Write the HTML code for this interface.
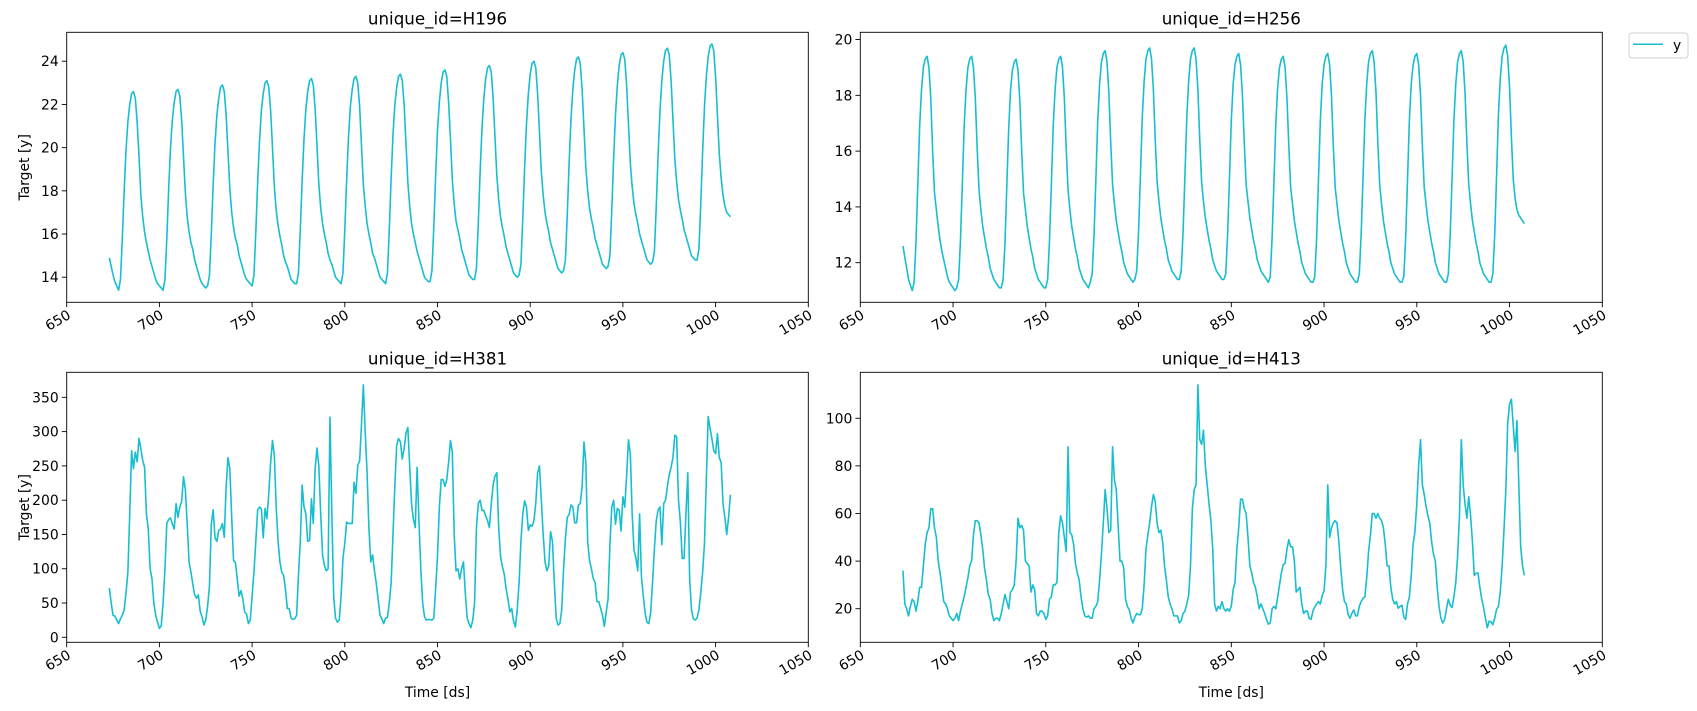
<!DOCTYPE html>
<html><head><meta charset="utf-8"><style>
html,body{margin:0;padding:0;background:#fff;}
svg{display:block;font-family:"DejaVu Sans","Liberation Sans",sans-serif;}
</style></head><body>
<svg id="chart" width="1697" height="711" viewBox="0 0 1697 711" xmlns="http://www.w3.org/2000/svg">
<rect width="1697" height="711" fill="#fff"/>
<g>
<rect x="1629" y="33" width="59" height="25" rx="3" fill="#fff" stroke="#d0d0d0"/>
<line x1="1633" y1="44.3" x2="1663" y2="44.3" stroke="#17becf" stroke-width="1.5"/>
<text x="1673" y="50" font-size="13.9" fill="#000">y</text>
</g>
</svg>
<script>
const xTicks = [650,700,750,800,850,900,950,1000,1050];
const dsStart = 673;
const titles = ["unique_id=H196","unique_id=H256","unique_id=H381","unique_id=H413"];
const yTicks196 = [14,16,18,20,22,24];
const yTicks256 = [12,14,16,18,20];
const yTicks381 = [0,50,100,150,200,250,300,350];
const yTicks413 = [20,40,60,80,100];
const h196 = [14.9,14.5,14.1,13.8,13.6,
13.4,13.9,15.8,18.0,19.9,21.2,22.0,22.5,22.6,22.3,21.2,19.6,17.8,16.8,16.1,15.6,15.2,14.8,14.5,14.2,13.9,13.7,13.6,13.5,
13.4,13.9,15.8,18.1,20.0,21.3,22.1,22.6,22.7,22.4,21.3,19.6,17.9,16.8,16.1,15.6,15.3,14.8,14.5,14.2,13.9,13.7,13.6,13.5,
13.6,14.1,16.0,18.3,20.2,21.5,22.3,22.8,22.9,22.6,21.5,19.8,18.1,17.0,16.3,15.8,15.5,15.0,14.7,14.4,14.1,13.9,13.8,13.7,
13.6,14.1,16.1,18.4,20.3,21.7,22.5,23.0,23.1,22.8,21.7,20.0,18.2,17.1,16.4,15.9,15.5,15.0,14.7,14.5,14.2,13.9,13.8,13.7,
13.7,14.2,16.2,18.5,20.4,21.8,22.6,23.1,23.2,22.9,21.8,20.1,18.3,17.2,16.5,16.0,15.6,15.1,14.8,14.6,14.3,14.0,13.9,13.8,
13.7,14.2,16.2,18.5,20.5,21.9,22.7,23.2,23.3,23.0,21.9,20.1,18.3,17.3,16.5,16.0,15.6,15.1,14.9,14.6,14.3,14.0,13.9,13.8,
13.7,14.2,16.2,18.6,20.6,22.0,22.8,23.3,23.4,23.1,22.0,20.2,18.4,17.3,16.5,16.0,15.6,15.2,14.9,14.6,14.3,14.0,13.9,13.8,
13.8,14.3,16.3,18.7,20.8,22.1,23.0,23.5,23.6,23.3,22.1,20.4,18.5,17.4,16.6,16.2,15.8,15.3,15.0,14.7,14.4,14.1,14.0,13.9,
13.9,14.4,16.5,18.9,20.9,22.3,23.2,23.7,23.8,23.5,22.3,20.5,18.7,17.6,16.8,16.3,15.9,15.4,15.1,14.8,14.5,14.2,14.1,14.0,
14.1,14.6,16.7,19.1,21.1,22.5,23.4,23.9,24.0,23.7,22.5,20.7,18.9,17.8,17.0,16.5,16.1,15.6,15.3,15.0,14.7,14.4,14.3,14.2,
14.3,14.8,16.9,19.3,21.3,22.7,23.6,24.1,24.2,23.9,22.7,20.9,19.1,18.0,17.2,16.7,16.3,15.8,15.5,15.2,14.9,14.6,14.5,14.4,
14.5,15.0,17.1,19.5,21.5,22.9,23.8,24.3,24.4,24.1,22.9,21.1,19.3,18.2,17.4,16.9,16.5,16.0,15.7,15.4,15.1,14.8,14.7,14.6,
14.7,15.2,17.3,19.7,21.7,23.1,24.0,24.5,24.6,24.3,23.1,21.3,19.5,18.4,17.6,17.1,16.7,16.2,15.9,15.6,15.3,15.0,14.9,14.8,
14.8,15.3,17.4,19.8,21.9,23.3,24.2,24.7,24.8,24.5,23.3,21.5,19.7,18.6,17.8,17.3,17.0,16.9,16.8];
const h256 = [12.6,12.2,11.8,11.4,11.2,
11.0,11.3,12.7,14.8,16.9,18.2,19.0,19.3,19.4,19.0,17.9,16.0,14.5,13.9,13.3,12.8,12.4,12.1,11.8,11.5,11.3,11.2,11.1,11.0,
11.1,11.4,12.8,14.8,16.9,18.2,19.0,19.3,19.4,19.0,17.9,16.1,14.6,13.9,13.3,12.9,12.5,12.2,11.8,11.6,11.4,11.3,11.2,11.1,
11.1,11.4,12.7,14.8,16.8,18.2,18.9,19.2,19.3,18.9,17.8,16.0,14.5,13.9,13.3,12.9,12.5,12.2,11.8,11.6,11.4,11.3,11.2,11.1,
11.1,11.4,12.8,14.8,16.9,18.2,19.0,19.3,19.4,19.0,17.9,16.1,14.6,13.9,13.3,12.9,12.5,12.2,11.8,11.6,11.4,11.3,11.2,11.1,
11.3,11.6,13.0,15.0,17.1,18.4,19.2,19.5,19.6,19.2,18.1,16.3,14.8,14.1,13.5,13.1,12.7,12.4,12.0,11.8,11.6,11.5,11.4,11.3,
11.4,11.7,13.1,15.1,17.2,18.5,19.3,19.6,19.7,19.3,18.2,16.4,14.9,14.2,13.6,13.2,12.8,12.5,12.1,11.9,11.7,11.6,11.5,11.4,
11.4,11.7,13.1,15.1,17.2,18.5,19.3,19.6,19.7,19.3,18.2,16.4,14.9,14.2,13.6,13.2,12.8,12.5,12.1,11.9,11.7,11.6,11.5,11.4,
11.4,11.6,13.0,15.0,17.1,18.4,19.1,19.4,19.5,19.1,18.0,16.3,14.8,14.2,13.6,13.2,12.8,12.5,12.1,11.9,11.7,11.6,11.5,11.4,
11.3,11.5,12.9,14.9,17.0,18.3,19.0,19.3,19.4,19.0,17.9,16.2,14.7,14.1,13.5,13.1,12.7,12.4,12.0,11.8,11.6,11.5,11.4,11.3,
11.3,11.5,12.9,15.0,17.1,18.4,19.1,19.4,19.5,19.1,18.0,16.2,14.7,14.1,13.5,13.1,12.7,12.4,12.0,11.8,11.6,11.5,11.4,11.3,
11.3,11.6,13.0,15.0,17.1,18.4,19.2,19.5,19.6,19.2,18.1,16.3,14.8,14.1,13.5,13.1,12.7,12.4,12.0,11.8,11.6,11.5,11.4,11.3,
11.3,11.5,12.9,15.0,17.1,18.4,19.1,19.4,19.5,19.1,18.0,16.2,14.7,14.1,13.5,13.1,12.7,12.4,12.0,11.8,11.6,11.5,11.4,11.3,
11.3,11.6,13.0,15.0,17.1,18.4,19.2,19.5,19.6,19.2,18.1,16.3,14.8,14.1,13.5,13.1,12.7,12.4,12.0,11.8,11.6,11.5,11.4,11.3,
11.3,11.6,13.0,15.1,17.3,18.6,19.4,19.7,19.8,19.4,18.3,16.5,15.0,14.3,13.9,13.7,13.6,13.5,13.4];
const h381 = [72,50,32,31,25,20,27,32,40,65,95,180,272,246,270,256,290,275,258,248,180,158,100,85,
50,32,22,13,17,50,100,166,172,174,165,158,195,175,190,198,234,215,165,110,95,78,62,57,
62,38,30,18,25,45,75,165,186,145,140,156,158,166,146,220,262,246,175,112,109,85,60,68,
56,37,34,20,25,60,95,140,186,190,187,145,188,173,210,255,287,265,190,140,110,95,90,70,
42,42,28,26,27,32,90,140,222,190,180,140,141,202,166,246,276,250,180,120,105,97,100,321,
183,60,28,22,25,60,115,137,168,166,166,166,226,210,251,257,310,368,300,241,160,110,120,97,
78,55,32,27,20,28,29,50,80,150,222,280,290,285,260,275,298,306,250,195,172,160,248,170,
100,50,30,25,26,26,25,28,71,118,190,230,230,220,230,255,287,270,150,97,100,85,100,110,
65,28,20,14,25,50,160,195,200,185,185,177,170,160,195,222,235,240,160,118,103,92,71,56,
37,42,24,15,40,80,140,180,199,190,156,164,162,170,195,240,250,200,150,110,97,104,154,140,
80,28,18,20,40,100,145,175,179,193,190,167,167,193,195,220,285,255,140,112,100,86,80,52,
52,42,32,16,37,56,135,190,200,165,188,185,155,205,190,235,288,268,180,127,116,97,180,88,
60,35,22,20,37,80,130,170,186,190,135,195,200,220,237,248,262,295,292,200,168,115,115,180,
240,85,40,27,25,28,40,65,95,137,230,322,305,290,272,268,297,262,255,195,175,150,175,208];
const h413 = [36,22,20,17,21,24,23,19,23,29,29,38,47,52,54,62,62,54,50,40,35,29,23,22,
20,17,16,15,16,18,15,19,22,25,29,33,38,40,51,57,57,56,51,45,37,32,26,24,
18,15,16,16,15,18,22,26,23,20,27,28,30,40,58,54,55,53,40,39,38,27,30,28,
18,17,19,19,18,15.5,17,24,25,30,30,31,52,59,56,50,44,88,52,51,47,39,35,32,
25,20,17,16.5,17,16,16,20,21,23,32,43,56,70,62,52,53,88,74,70,55,40,40,37,
24,21,19.5,16,14,16.5,18,17.5,17.5,20,30,45,51,56,63,68,65,56,52,53,48,38,32,25,
22,20,17,17,17,14,15,18,19,22,25.5,38,62,70,72,114,91,89,95,80,72,64,57,45,
22,19,21,20,23,20,19,20,19,21,28,31,45,54,66,66,62,60,50,38,35,31,29,25,
20,22,20,18,15.5,13.5,14,20,21,20,25,30,35,38.5,39,45,49,46,46,40,27,28,29,22,
18,19,19,16,15.5,19,20.7,22,23,22,25.6,27.5,38,72,50,54,56,57,56,48,37,28,23,22,
17.5,16,18,19.5,17,17,21,23,24.3,25,33,44,51,60,60,58,60,58,57,54,47,38,38,29,
24,22,23,20.2,21,21.5,16.5,15.5,22,25,34,47,52.5,64,80,91,72,68,63,59,56,48,43,40,
29,21,16,14,15.5,20,24,21.5,20.5,25,31,42,59,91,72,64,58,67,59,48,34,35,35,29,
24,20.5,16,12,14.8,14.5,13.3,16,19.7,21,27,38,53,70,98,106,108,97,86,99,72,46,38,34];

const NS = "http://www.w3.org/2000/svg";
const svg = document.getElementById('chart');
const COLOR = "#17becf";
const panels = [
 {data:h196, ticks:yTicks196, left:66.7, right:808.3, top:32.3, bottom:302.3, ymin:12.84, ymax:25.34, ylab:true, xlab:false, name:'h196'},
 {data:h256, ticks:yTicks256, left:860.3, right:1602.3, top:32.3, bottom:302.3, ymin:10.58, ymax:20.26, ylab:false, xlab:false, name:'h256'},
 {data:h381, ticks:yTicks381, left:66.7, right:808.3, top:372.3, bottom:642.3, ymin:-7.3, ymax:386.5, ylab:true, xlab:true, name:'h381'},
 {data:h413, ticks:yTicks413, left:860.3, right:1602.3, top:372.3, bottom:642.3, ymin:5.9, ymax:119.3, ylab:false, xlab:true, name:'h413'}
];
function mk(tag, attrs, parent){
  const e = document.createElementNS(NS, tag);
  for (const k in attrs) e.setAttribute(k, attrs[k]);
  (parent||svg).appendChild(e);
  return e;
}
panels.forEach((p, pi) => {
  const xS = t => p.left + (t - 650) / 400 * (p.right - p.left);
  const yS = v => p.bottom - (v - p.ymin) / (p.ymax - p.ymin) * (p.bottom - p.top);
  const g = mk('g', {});
  
  
  let d = '';
  p.data.forEach((v, i) => { d += (i ? 'L' : 'M') + xS(dsStart + i).toFixed(2) + ' ' + yS(v).toFixed(2); });
  const path = mk('path', {d: d, fill: 'none', stroke: COLOR, 'stroke-width': 1.6, 'stroke-linejoin': 'round'}, g);
  
  
  const fr = mk('rect', {x: p.left, y: p.top, width: p.right - p.left, height: p.bottom - p.top, fill: 'none', stroke: '#000', 'stroke-width': 0.9}, g);
  
  
  xTicks.forEach(t => {
    const x = xS(t);
    mk('line', {x1: x, y1: p.bottom, x2: x, y2: p.bottom + 4.9, stroke: '#000', 'stroke-width': 0.9}, g);
    const tx = mk('text', {transform: 'translate(' + (x + 3) + ',' + (p.bottom + 12) + ') rotate(-30)', 'text-anchor': 'end', 'font-size': 13.9, fill: '#000', 'dominant-baseline': 'middle'}, g);
    
    
    tx.textContent = t;
  });
  p.ticks.forEach(v => {
    const y = yS(v);
    mk('line', {x1: p.left - 4.9, y1: y, x2: p.left, y2: y, stroke: '#000', 'stroke-width': 0.9}, g);
    const ty = mk('text', {x: p.left - 8, y: y + 5, 'text-anchor': 'end', 'font-size': 13.9, fill: '#000'}, g);
    
    
    ty.textContent = v;
  });
  const tt = mk('text', {x: (p.left + p.right) / 2, y: p.top - 8, 'text-anchor': 'middle', 'font-size': 16.7, fill: '#000'}, g);
  
  
  tt.textContent = titles[pi];
  if (p.ylab) {
    const cy = (p.top + p.bottom) / 2;
    const yl = mk('text', {transform: 'translate(29,' + cy + ') rotate(-90)', 'text-anchor': 'middle', 'font-size': 13.9, fill: '#000'}, g);
    
    
    yl.textContent = 'Target [y]';
  }
  if (p.xlab) {
    const xl = mk('text', {x: (p.left + p.right) / 2, y: 697, 'text-anchor': 'middle', 'font-size': 13.9, fill: '#000'}, g);
    
    
    xl.textContent = 'Time [ds]';
  }
});
</script>
</body></html>
